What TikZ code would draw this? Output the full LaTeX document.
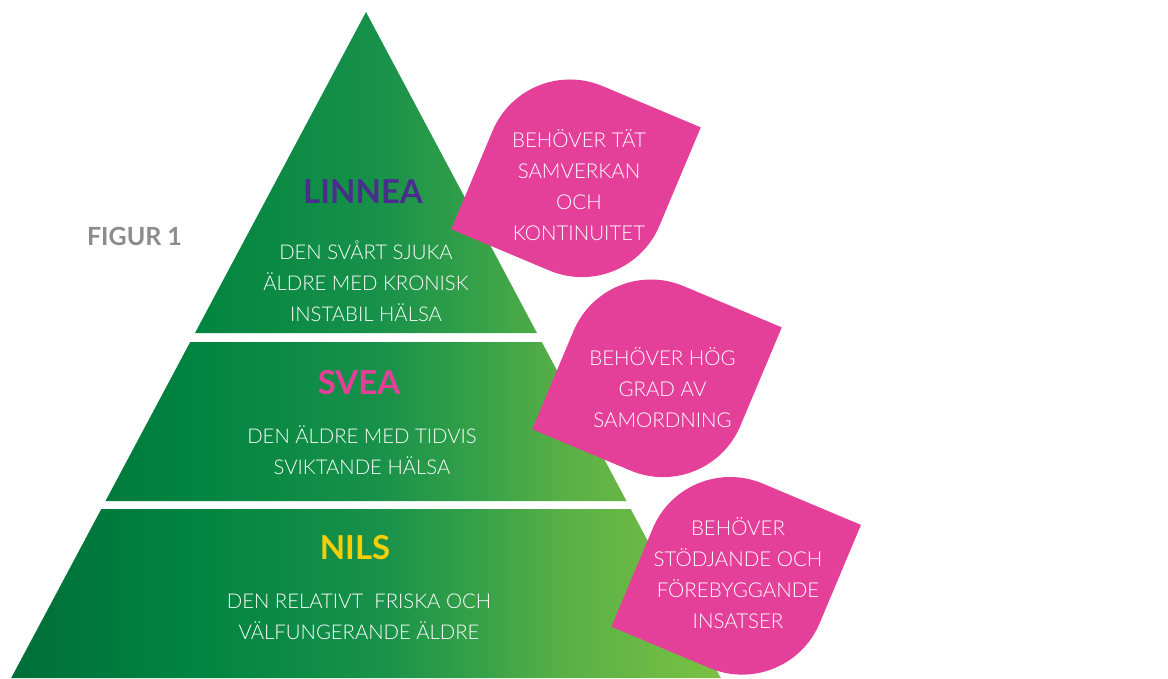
\documentclass[tikz,border=0pt]{standalone}
\usepackage{fontspec}
\setmainfont{Lato}[UprightFont=* Light, BoldFont=* Bold]
\definecolor{g0}{HTML}{006E39}
\definecolor{g1}{HTML}{00843F}
\definecolor{g2}{HTML}{18914A}
\definecolor{g3}{HTML}{34A049}
\definecolor{g4}{HTML}{5AB046}
\definecolor{g5}{HTML}{7AC143}
\definecolor{leafpink}{HTML}{E4409A}
\definecolor{lpurple}{HTML}{4A2E8E}
\definecolor{lyellow}{HTML}{F5CF0A}
\definecolor{figgray}{HTML}{8C8C8C}
\pgfdeclarehorizontalshading{pyr}{100bp}{color(0bp)=(g0); color(25bp)=(g0); color(37.5bp)=(g1); color(50.8bp)=(g2); color(57.5bp)=(g3); color(64.1bp)=(g4); color(75bp)=(g5); color(100bp)=(g5)}
\tikzset{
  leaf/.pic={
    \fill[leafpink] (-95.3,-95.3) -- (-95.3,11.3) .. controls (-95.3,57.7) and (-57.7,95.3) .. (-11.3,95.3)
      -- (95.3,95.3) -- (95.3,-11.3) .. controls (95.3,-57.7) and (57.7,-95.3) .. (11.3,-95.3) -- cycle;
  },
  title/.style={font=\fontsize{33}{36}\selectfont\bfseries, inner sep=0pt},
  body/.style={font=\fontsize{20.3}{31}\selectfont, text=white, align=center, inner sep=0pt},
  leaftxt/.style={font=\fontsize{20.5}{31}\selectfont, text=white, align=center, inner sep=0pt},
  figlbl/.style={font=\fontsize{25}{28}\selectfont\bfseries, text=figgray, inner sep=0pt}
}
\begin{document}
\begin{tikzpicture}[x=1pt,y=1pt]
\useasboundingbox (0,0) rectangle (1168,-678);
% pyramid
\shade[shading=pyr]
  (366,-12) -- (537,-333) -- (195,-333) -- cycle
  (190.2,-342) -- (541.8,-342) -- (626.5,-501) -- (105.5,-501) -- cycle
  (101.3,-509) -- (630.7,-509) -- (720.8,-678) -- (11.2,-678) -- cycle;
% leaves
\pic[rotate=-22.8] (leafA) at (576,-178.3) {leaf};
\pic[rotate=-22.8] (leafB) at (657,-378.3) {leaf};
\pic[rotate=-22.8] (leafC) at (736.2,-575.8) {leaf};
% texts
\node[figlbl] (fig) at (134.5,-236) {FIGUR 1};
\node[title, text=lpurple] (linnea) at (363,-192) {LINNEA};
\node[body] (linneatxt) at (366,-281) {DEN SVÅRT SJUKA\\ÄLDRE MED KRONISK\\INSTABIL HÄLSA};
\node[title, text=leafpink] (svea) at (359,-383) {SVEA};
\node[body] (sveatxt) at (362,-450.5) {DEN ÄLDRE MED TIDVIS\\SVIKTANDE HÄLSA};
\node[title, text=lyellow] (nils) at (355,-548) {NILS};
\node[body] (nilstxt) at (359,-616.5) {DEN RELATIVT\ \ FRISKA OCH\\VÄLFUNGERANDE ÄLDRE};
\node[leaftxt] (t1) at (579,-184.7) {BEHÖVER TÄT\\SAMVERKAN\\OCH\\KONTINUITET};
\node[leaftxt] (t2) at (662.5,-388) {BEHÖVER HÖG\\GRAD AV\\SAMORDNING};
\node[leaftxt] (t3) at (738,-573) {BEHÖVER\\STÖDJANDE OCH\\FÖREBYGGANDE\\INSATSER};
\end{tikzpicture}
\end{document}
